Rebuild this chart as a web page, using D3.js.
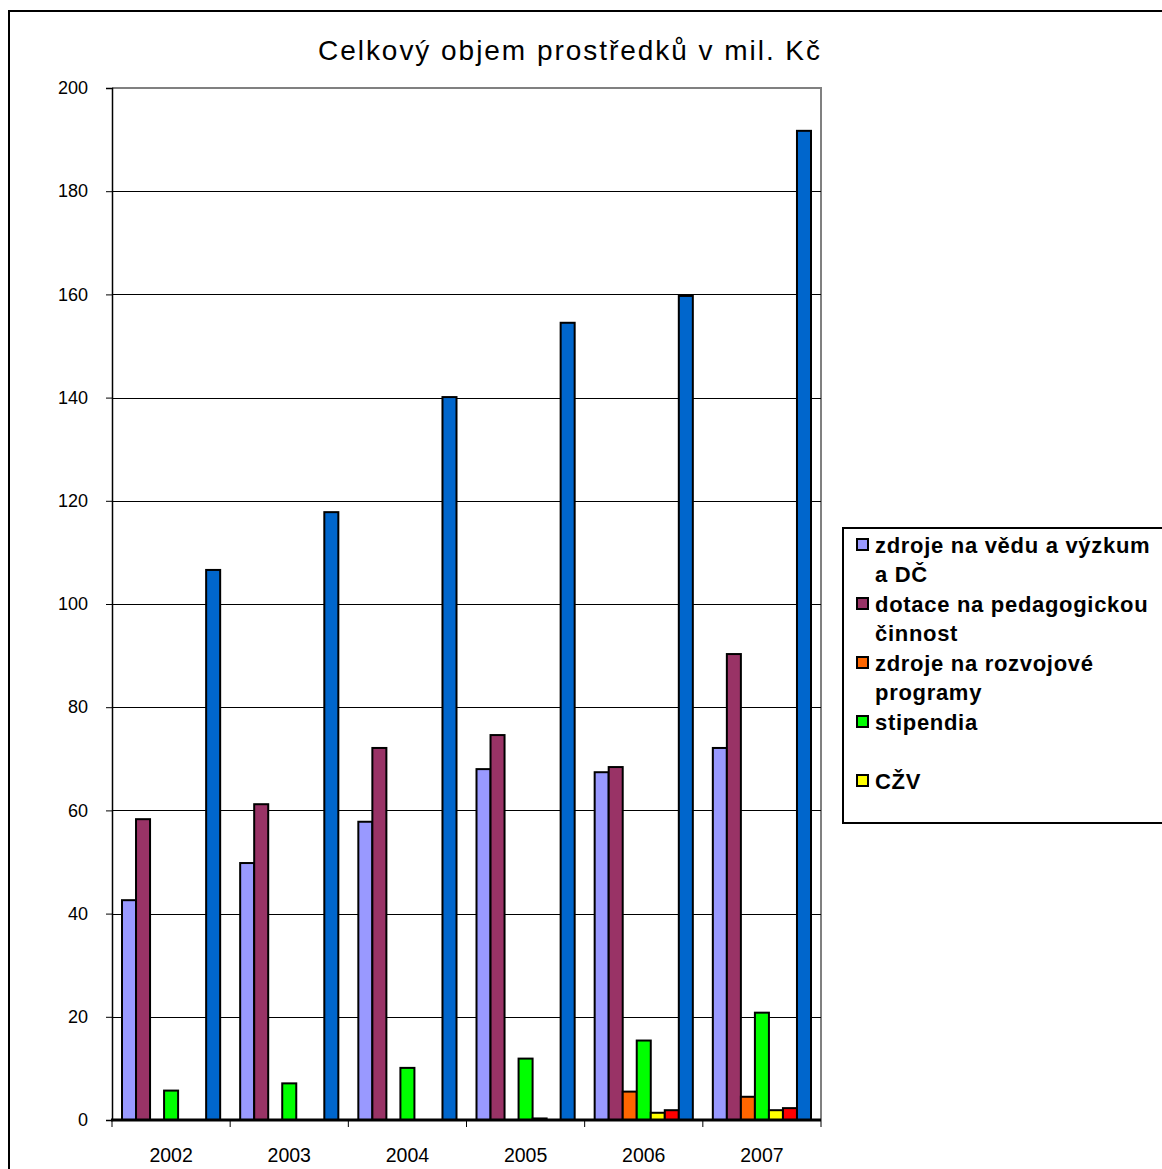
<!DOCTYPE html>
<html>
<head>
<meta charset="utf-8">
<script src="https://cdn.jsdelivr.net/npm/d3@7"></script>
<style>
  body { margin: 0; background: #fff; }
  svg { display: block; font-family: "Liberation Sans", Arial, sans-serif; }
</style>
</head>
<body>
<svg id="chart" width="1162" height="1169"></svg>
<script>
// data
const years = ['2002', '2003', '2004', '2005', '2006', '2007'];
const vedu = [42.6, 49.8, 57.8, 68.0, 67.4, 72.1];
const pedagogika = [58.3, 61.2, 72.1, 74.6, 68.4, 90.3];
const rozvoj = [0, 0, 0, 0, 5.5, 4.5];
const stipendia = [5.7, 7.1, 10.1, 11.9, 15.4, 20.8];
const czv = [0, 0, 0, 0.3, 1.4, 1.9];
const ostatni = [0, 0, 0, 0, 1.9, 2.3];
const celkem = [106.6, 117.8, 140.1, 154.5, 159.7, 191.7];
const yTicks = [0, 20, 40, 60, 80, 100, 120, 140, 160, 180, 200];

const series = [
  { key: 'vedu', lines: ['zdroje na vědu a výzkum', 'a DČ'], color: '#9999ff', values: vedu },
  { key: 'ped', lines: ['dotace na pedagogickou', 'činnost'], color: '#993366', values: pedagogika },
  { key: 'roz', lines: ['zdroje na rozvojové', 'programy'], color: '#ff6600', values: rozvoj },
  { key: 'sti', lines: ['stipendia'], color: '#00ff00', values: stipendia },
  { key: 'czv', lines: ['CŽV'], color: '#ffff00', values: czv },
  { key: 'ost', lines: null, color: '#ff0000', values: ostatni },   // not in legend
  { key: 'cel', lines: null, color: '#0066cc', values: celkem }     // not in legend
];

const svg = d3.select('#chart');

// outer chart frame
svg.append('path')
  .attr('d', 'M9,1169 V11 H1162')
  .attr('fill', 'none')
  .attr('stroke', '#000')
  .attr('stroke-width', 2);

svg.append('text')
  .attr('x', 569).attr('y', 60)
  .attr('text-anchor', 'middle')
  .attr('font-size', 28)
  .attr('textLength', 502)
  .attr('lengthAdjust', 'spacing')
  .text('Celkový objem prostředků v mil. Kč');

const plotL = 112, plotR = 821, plotT = 88, plotB = 1120;

const x = d3.scaleBand().domain(years).range([plotL, plotR]);
const xi = d3.scaleBand().domain(series.map(s => s.key))
  .range([10, x.bandwidth() - 10]);
const y = d3.scaleLinear().domain([0, 200]).range([plotB, plotT]);

// plot frame (grey top / right)
svg.append('path')
  .attr('d', `M${plotL},${plotT} H${plotR} V${plotB}`)
  .attr('fill', 'none')
  .attr('stroke', '#808080')
  .attr('stroke-width', 2);

// gridlines
svg.append('g')
  .selectAll('line')
  .data(yTicks.filter(d => d > 0 && d < 200))
  .join('line')
  .attr('x1', plotL).attr('x2', plotR)
  .attr('y1', d => Math.round(y(d)) + 0.5).attr('y2', d => Math.round(y(d)) + 0.5)
  .attr('stroke', '#000');

// bars
const groups = svg.append('g')
  .selectAll('g')
  .data(years)
  .join('g')
  .attr('transform', d => `translate(${x(d)},0)`);

groups.selectAll('rect')
  .data((yr, i) => series.map(s => ({ key: s.key, color: s.color, v: s.values[i] })).filter(d => d.v > 0))
  .join('rect')
  .attr('x', d => xi(d.key))
  .attr('width', xi.bandwidth())
  .attr('y', d => y(d.v))
  .attr('height', d => plotB - y(d.v))
  .attr('fill', d => d.color)
  .attr('stroke', '#000')
  .attr('stroke-width', 2);

// y axis
const yAxis = svg.append('g')
  .attr('transform', `translate(${plotL},0)`)
  .call(d3.axisLeft(y).tickValues(yTicks).tickSize(6).tickPadding(18));
yAxis.select('.domain').attr('stroke', '#000').attr('stroke-width', 1.5);
yAxis.selectAll('text')
  .attr('font-size', 18)
  .attr('fill', '#000')
  .attr('font-family', '"Liberation Sans", Arial, sans-serif');

// x axis
const xAxis = svg.append('g')
  .attr('transform', `translate(0,${plotB})`)
  .call(d3.axisBottom(x).tickSize(0).tickPadding(0));
xAxis.select('.domain').remove();
xAxis.selectAll('text')
  .attr('y', 35).attr('dy', '0.35em')
  .attr('font-size', 19.5)
  .attr('fill', '#000')
  .attr('font-family', '"Liberation Sans", Arial, sans-serif');

svg.append('line')
  .attr('x1', plotL - 1).attr('x2', plotR)
  .attr('y1', plotB).attr('y2', plotB)
  .attr('stroke', '#000').attr('stroke-width', 3);

svg.append('g')
  .selectAll('line')
  .data(years.map(d => x(d)).concat([plotR]))
  .join('line')
  .attr('x1', d => d).attr('x2', d => d)
  .attr('y1', plotB).attr('y2', plotB + 7)
  .attr('stroke', '#000');

// legend
const legend = svg.append('g');
legend.append('rect')
  .attr('x', 843).attr('y', 528)
  .attr('width', 330).attr('height', 295)
  .attr('fill', '#fff')
  .attr('stroke', '#000')
  .attr('stroke-width', 2);

const items = legend.selectAll('g.item')
  .data(series.filter(s => s.lines))
  .join('g')
  .attr('class', 'item')
  .attr('transform', (d, i) => `translate(0,${545 + 59 * i})`);

items.append('rect')
  .attr('x', 857).attr('y', -6)
  .attr('width', 11).attr('height', 11)
  .attr('fill', d => d.color)
  .attr('stroke', '#000')
  .attr('stroke-width', 2);

items.selectAll('text')
  .data(d => d.lines)
  .join('text')
  .attr('x', 875)
  .attr('y', (d, j) => j * 29.5)
  .attr('dy', '0.35em')
  .attr('font-size', 22)
  .attr('font-weight', 'bold')
  .attr('letter-spacing', 0.7)
  .text(d => d);
</script>
</body>
</html>
